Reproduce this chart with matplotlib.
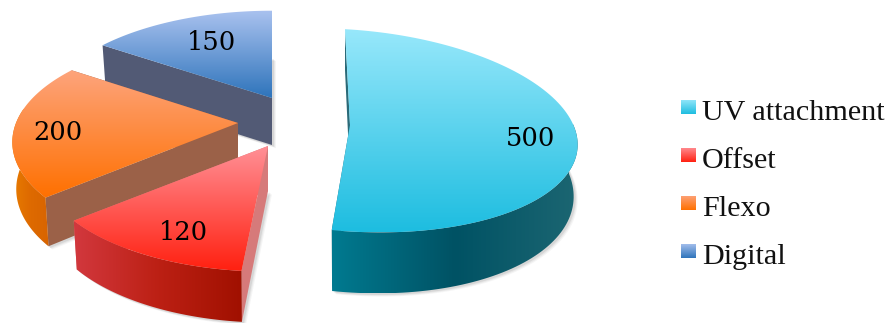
import numpy as np
import matplotlib
matplotlib.use("Agg")
import matplotlib.pyplot as plt
from matplotlib.colors import LinearSegmentedColormap
from matplotlib.patches import PathPatch, Polygon
from matplotlib.path import Path

categories = ["UV attachment", "Offset", "Flexo", "Digital"]
values = [500, 120, 200, 150]

# slice geometry: apex, x/y radius, perspective, shear, wall height
apex = [(350, 125), (268, 146), (238, 123), (272, 98)]
radius_x = [227, 224, 222, 226]
radius_y = [101, 103, 103, 103]
persp = [0.054, 0.18, 0.18, 0.18]
shear_x = [-5, 0, 0, 0]
shear_y = [12, 0, 0, 0]
wall_h = [51, 45, 46, 47]
wall_tilt = [10, 6, 4, 0]

top_colors = [("#98e8fb", "#1dbde0"), ("#ff9096", "#ff2010"),
              ("#fda47c", "#ff7000"), ("#aac2ef", "#2e74bb")]
rim_colors = [("#007a90", "#005264", "#1c6672"), ("#d2383e", "#bc2014", "#a01000"),
              ("#e87c00", "#de6a00", "#d86400"), ("#525a75", "#525a75", "#525a75")]
side_colors = ["#2a6a78", "#d67a7a", "#9b6148", "#525a75"]
label_pos = [(531, 138), (183, 233), (58, 133), (211, 42)]
legend_y = [107, 155, 203, 251]
draw_order = [3, 2, 1, 0]


def project(i, theta):
    # theta runs clockwise from 12 o'clock
    x = np.sin(theta)
    y = np.cos(theta)
    w = 1 + persp[i] * y
    px = apex[i][0] + radius_x[i] * x / w + shear_x[i] * y
    py = apex[i][1] - radius_y[i] * y / w + shear_y[i] * x
    return px, py


def lower(i, px, py, x, y):
    return px - 4 * x, py + wall_h[i] - wall_tilt[i] * y


def gradient_fill(ax, pts, colors, vertical, zorder):
    pts = np.asarray(pts)
    patch = PathPatch(Path(np.vstack([pts, pts[0]]), closed=True), fc="none", ec="none", zorder=zorder)
    ax.add_patch(patch)
    cmap = LinearSegmentedColormap.from_list("g", colors)
    ramp = np.linspace(0, 1, 256)
    ramp = ramp[:, None] if vertical else ramp[None, :]
    x0, x1 = pts[:, 0].min(), pts[:, 0].max()
    y0, y1 = pts[:, 1].min(), pts[:, 1].max()
    im = ax.imshow(ramp, cmap=cmap, extent=(x0, x1, y1, y0), aspect="auto", zorder=zorder, interpolation="bilinear")
    im.set_clip_path(patch)


def draw_slice(ax, i, start, end, z):
    th = np.linspace(start, end, 120)
    ax_, ay_ = apex[i]
    px, py = project(i, th)
    bx, by = lower(i, px, py, np.sin(th), np.cos(th))
    abx, aby = lower(i, ax_, ay_, 0, 0)

    # soft shadow under the bottom face
    outline = np.column_stack([np.r_[abx, bx], np.r_[aby, by]])
    for d, a in [(4, 0.05), (3, 0.07), (2, 0.1)]:
        ax.add_patch(Polygon(outline + [d, d * 0.8], fc="#404040", ec="none", alpha=a, zorder=z))

    # radial walls
    for t, px_e, py_e in [(start, px[0], py[0]), (end, px[-1], py[-1])]:
        bx_e, by_e = lower(i, px_e, py_e, np.sin(t), np.cos(t))
        ax.add_patch(Polygon([(ax_, ay_), (px_e, py_e), (bx_e, by_e), (abx, aby)],
                             fc=side_colors[i], ec="none", zorder=z + 0.1))

    # outer wall, front-facing part only
    front = np.cos(th) < 0.15
    if front.sum() > 1:
        rim = np.column_stack([np.r_[px[front], bx[front][::-1]], np.r_[py[front], by[front][::-1]]])
        gradient_fill(ax, rim, rim_colors[i], False, z + 0.2)

    # top face
    top = np.column_stack([np.r_[ax_, px], np.r_[ay_, py]])
    gradient_fill(ax, top, top_colors[i], True, z + 0.3)


def main():
    fig = plt.figure(figsize=(8.91, 3.23), dpi=100)
    ax = fig.add_axes([0, 0, 1, 1])

    edges = np.r_[0, np.cumsum(values)] / np.sum(values) * 2 * np.pi
    for z, i in enumerate(draw_order):
        draw_slice(ax, i, edges[i], edges[i + 1], z * 2 + 1)
        ax.text(label_pos[i][0], label_pos[i][1], str(values[i]), ha="center", va="center",
                fontsize=18.5, family="DejaVu Serif", color="black", zorder=20)

    # legend
    for i, name in enumerate(categories):
        y = legend_y[i]
        box = [(681, y - 7.5), (696, y - 7.5), (696, y + 7.5), (681, y + 7.5)]
        gradient_fill(ax, box, top_colors[i], True, 15)
        ax.text(702, y + 13, name, ha="left", va="baseline", fontsize=21.7,
                family="Liberation Serif", color="#111111", zorder=20)

    ax.set_xlim(0, 891)
    ax.set_ylim(323, 0)
    ax.axis("off")
    fig.savefig("out.png", dpi=100)


if __name__ == "__main__":
    main()
